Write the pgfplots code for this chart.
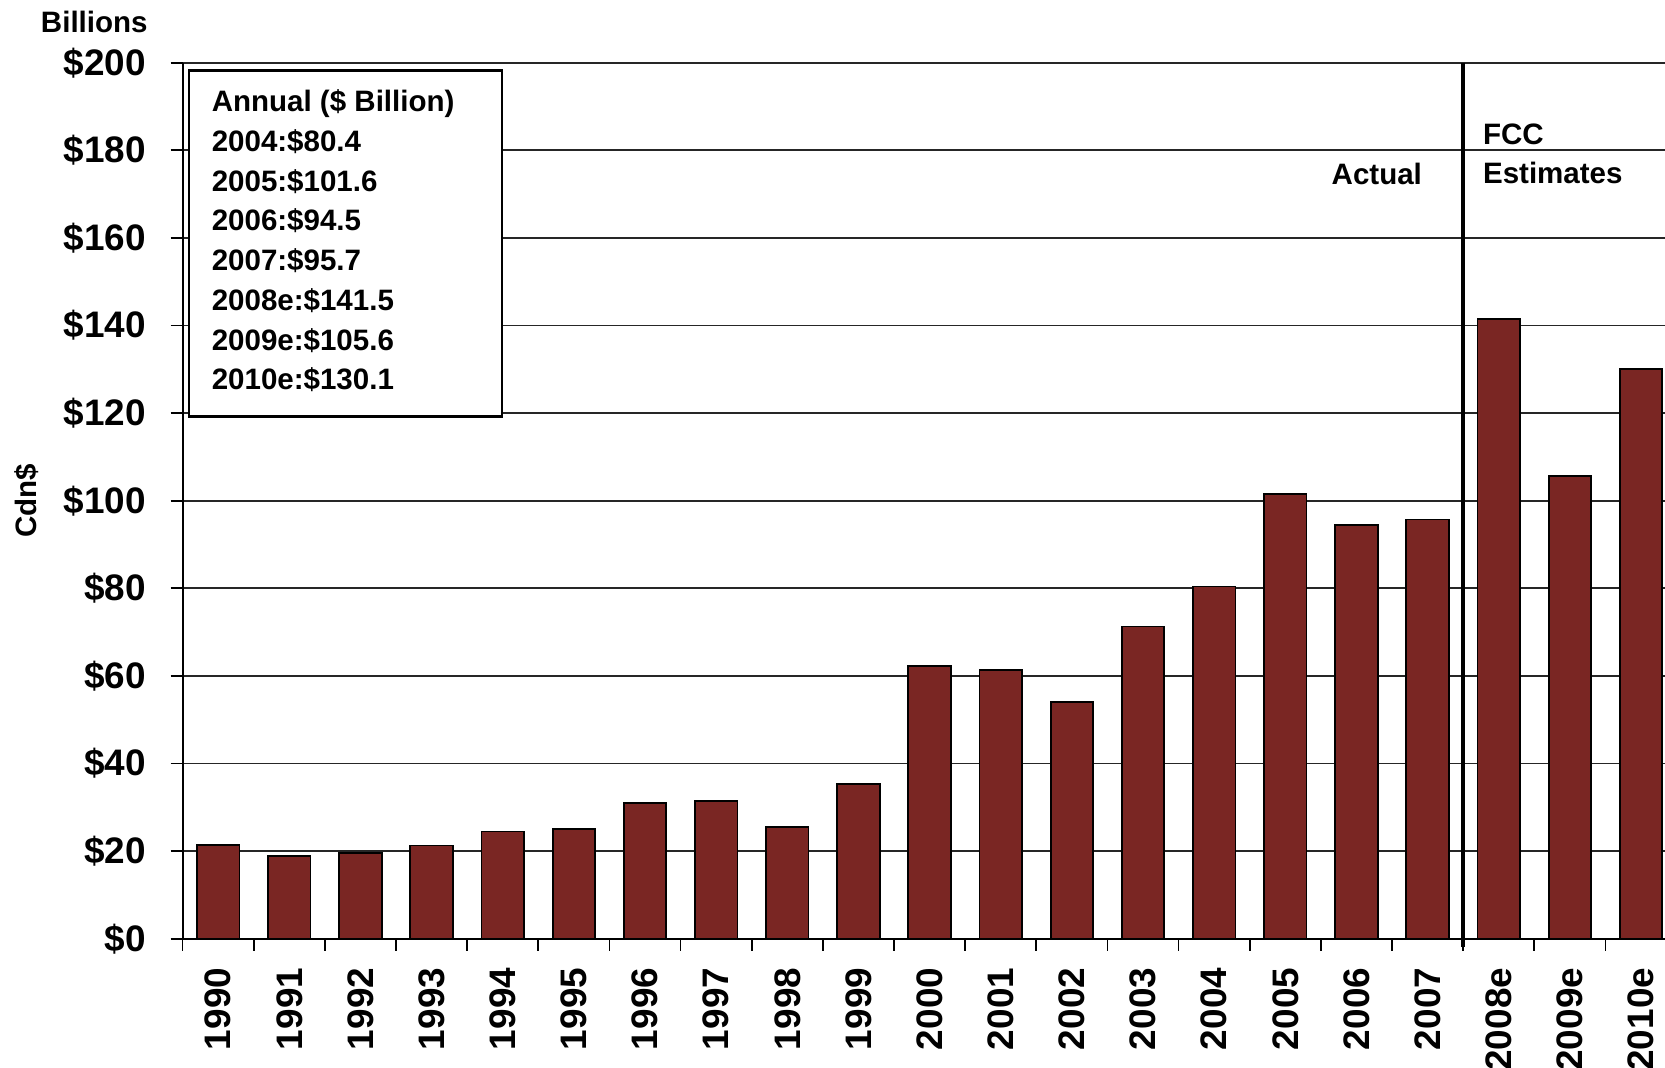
\documentclass[border=0pt]{standalone}
\usepackage{pgfplots}
\pgfplotsset{compat=1.18}
\usepackage{fontspec}
\setmainfont{Liberation Sans}
\definecolor{barred}{RGB}{122,38,35}
\newcommand{\smallbf}{\fontsize{8.4}{10}\selectfont\bfseries}
\newcommand{\bigbf}{\fontsize{10.5}{12.6}\selectfont\bfseries}

\begin{document}
\begin{tikzpicture}
\begin{axis}[
  at={(0,0)}, anchor=south west,
  scale only axis, width=149.4mm, height=87.6mm,
  xmin=-0.5, xmax=20.5, ymin=0, ymax=200,
  axis x line*=bottom, axis y line*=left,
  axis line style={black, line width=0.6pt},
  clip=false,
  ymajorgrids, major grid style={black!85, line width=0.5pt},
  ytick={0,20,...,200},
  yticklabels={\$0,\$20,\$40,\$60,\$80,\$100,\$120,\$140,\$160,\$180,\$200},
  yticklabel style={font=\bigbf, anchor=east, inner sep=0pt},
  yticklabel shift=2.4mm,
  tick align=outside,
  major tick length=1.2mm, minor tick length=1.2mm,
  tick style={black, line width=0.5pt},
  xtick={0,...,20},
  xticklabels={1990,1991,1992,1993,1994,1995,1996,1997,1998,1999,2000,2001,2002,2003,2004,2005,2006,2007,2008e,2009e,2010e},
  major x tick style={draw=none},
  minor xtick={-0.5,0.5,...,20.5},
  xticklabel style={font=\bigbf, rotate=90, anchor=east, inner sep=0pt},
  xticklabel shift=1.65mm,
]
\addplot[ybar, bar width=4.25mm, fill=barred, draw=black, line width=0.5pt] coordinates {
  (0,21.4) (1,18.9) (2,19.6) (3,21.3) (4,24.5) (5,25.0) (6,31.0)
  (7,31.5) (8,25.5) (9,35.4) (10,62.3) (11,61.3) (12,54.1) (13,71.3)
  (14,80.4) (15,101.6) (16,94.5) (17,95.7) (18,141.5) (19,105.6) (20,130.1)
};
\draw[line width=1.3pt] (axis cs:17.5,200) -- ([yshift=-0.8mm]axis cs:17.5,0);
\node[font=\smallbf, anchor=base east, inner sep=0pt] at (axis cs:16.93,172.1) {Actual};
\node[font=\smallbf, anchor=base west, inner sep=0pt] at (axis cs:17.77,181.3) {FCC};
\node[font=\smallbf, anchor=base west, inner sep=0pt] at (axis cs:17.77,172.4) {Estimates};
\draw[black, line width=0.8pt, fill=white] (axis cs:-0.41,198.3) rectangle (axis cs:3.99,119.3);
\node[font=\smallbf, anchor=base west, inner sep=0pt] at (axis cs:-0.1,188.8) {Annual (\$ Billion)};
\node[font=\smallbf, anchor=base west, inner sep=0pt] at (axis cs:-0.1,179.8) {2004:\$80.4};
\node[font=\smallbf, anchor=base west, inner sep=0pt] at (axis cs:-0.1,170.7) {2005:\$101.6};
\node[font=\smallbf, anchor=base west, inner sep=0pt] at (axis cs:-0.1,161.6) {2006:\$94.5};
\node[font=\smallbf, anchor=base west, inner sep=0pt] at (axis cs:-0.1,152.5) {2007:\$95.7};
\node[font=\smallbf, anchor=base west, inner sep=0pt] at (axis cs:-0.1,143.5) {2008e:\$141.5};
\node[font=\smallbf, anchor=base west, inner sep=0pt] at (axis cs:-0.1,134.4) {2009e:\$105.6};
\node[font=\smallbf, anchor=base west, inner sep=0pt] at (axis cs:-0.1,125.3) {2010e:\$130.1};
\node[font=\smallbf, anchor=base east, inner sep=0pt] at ([xshift=-3.43mm]axis cs:-0.5,206.8) {Billions};
\node[font=\smallbf, rotate=90, inner sep=0pt] at ([xshift=-15.6mm]axis cs:-0.5,100) {Cdn\$};
\end{axis}
\pgfresetboundingbox
\useasboundingbox (-18.26mm,-12.93mm) rectangle (148.24mm,93.87mm);
\end{tikzpicture}
\end{document}
